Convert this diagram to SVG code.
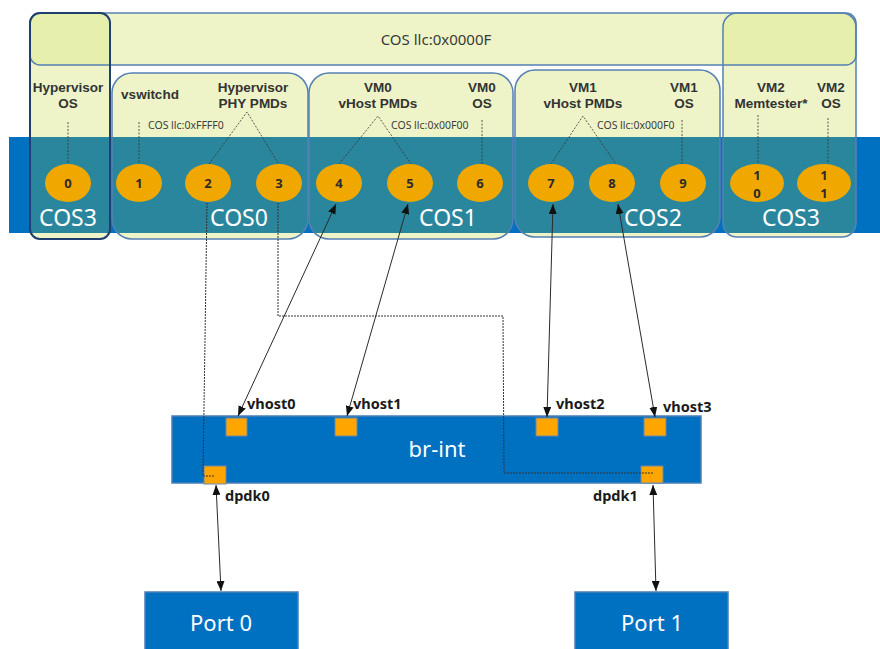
<svg xmlns="http://www.w3.org/2000/svg" width="880" height="649" viewBox="0 0 880 649">
  <style>
    .box { fill: #dde98f; fill-opacity: 0.5; }
    .edge { fill: none; stroke: #5580b4; stroke-width: 1.5; }
    .edge-dark { fill: none; stroke: #1f3f6e; stroke-width: 2; }
    .band { fill: #0070c0; }
    .band-in { fill: #2a869c; }
    .core { fill: #f0a800; }
    .num { font-family: "Noto Sans", "Liberation Sans", sans-serif; font-size: 13px; font-weight: bold; fill: #2b2b2b; text-anchor: middle; }
    .lbl { font-family: "Liberation Sans", "Noto Sans", sans-serif; font-size: 13.5px; font-weight: bold; fill: #333; text-anchor: middle; }
    .small { font-family: "Noto Sans", "Liberation Sans", sans-serif; font-size: 10.5px; fill: #3d3d3d; }
    .title { font-family: "Noto Sans", "Liberation Sans", sans-serif; font-size: 15px; fill: #3a3a3a; text-anchor: middle; }
    .cos { font-family: "Noto Sans", "Liberation Sans", sans-serif; font-size: 23px; fill: #ffffff; text-anchor: middle; }
    .big { font-family: "Noto Sans", "Liberation Sans", sans-serif; font-size: 22px; fill: #ffffff; text-anchor: middle; }
    .port-lbl { font-family: "Noto Sans", "Liberation Sans", sans-serif; font-size: 14.5px; font-weight: bold; fill: #1a1a1a; }
    .lead { fill: none; stroke: #333; stroke-width: 0.8; stroke-dasharray: 2 1.5; }
    .dash { fill: none; stroke: #333; stroke-width: 1; stroke-dasharray: 2 1; }
    .arrow { fill: none; stroke: #2a2a2a; stroke-width: 1; marker-start: url(#head); marker-end: url(#head); }
    .sq { fill: #ffa500; stroke: #6a88aa; stroke-width: 1; }
    .blue { fill: #0070c0; stroke: #4a7fb8; stroke-width: 1.5; }
  </style>
  <defs>
    <marker id="head" viewBox="0 0 10 8" refX="10" refY="4" markerWidth="10" markerHeight="8" markerUnits="userSpaceOnUse" orient="auto-start-reverse">
      <path d="M0,0 L10,4 L0,8 z" fill="#111"/>
    </marker>
    <clipPath id="cos-area">
      <rect x="30" y="13" width="80" height="226" rx="10"/>
      <rect x="112" y="73" width="196" height="166" rx="20"/>
      <rect x="309" y="73" width="204" height="166" rx="20"/>
      <rect x="515" y="70" width="205" height="167" rx="20"/>
      <rect x="723" y="13" width="133" height="224" rx="14"/>
    </clipPath>
  </defs>

  <!-- core band behind the class-of-service containers -->
  <rect class="band" x="9" y="137" width="871" height="96"/>

  <!-- container fills -->
  <g id="cos-top">
    <rect class="box" x="30" y="13" width="826" height="52" rx="10"/>
  </g>
  <g id="cos3-left">
    <rect class="box" x="30" y="13" width="80" height="226" rx="10"/>
  </g>
  <g id="cos0">
    <rect class="box" x="112" y="73" width="196" height="166" rx="20"/>
  </g>
  <g id="cos1">
    <rect class="box" x="309" y="73" width="204" height="166" rx="20"/>
  </g>
  <g id="cos2">
    <rect class="box" x="515" y="70" width="205" height="167" rx="20"/>
  </g>
  <g id="cos3-right">
    <rect class="box" x="723" y="13" width="133" height="224" rx="14"/>
  </g>

  <!-- band seen through the containers -->
  <rect class="band-in" x="9" y="137" width="871" height="96" clip-path="url(#cos-area)"/>

  <!-- container outlines -->
  <rect class="edge" x="30" y="13" width="826" height="52" rx="10"/>
  <rect class="edge" x="112" y="73" width="196" height="166" rx="20"/>
  <rect class="edge" x="309" y="73" width="204" height="166" rx="20"/>
  <rect class="edge" x="515" y="70" width="205" height="167" rx="20"/>
  <rect class="edge" x="723" y="13" width="133" height="224" rx="14"/>
  <rect class="edge-dark" x="30" y="13" width="80" height="226" rx="10"/>

  <!-- container texts -->
  <text class="title" x="436" y="44.5">COS llc:0x0000F</text>
  <text class="lbl" x="68" y="91.5">Hypervisor</text>
  <text class="lbl" x="68" y="107.5">OS</text>
  <text class="lbl" x="150" y="99">vswitchd</text>
  <text class="lbl" x="253" y="91.5">Hypervisor</text>
  <text class="lbl" x="253" y="107.5">PHY PMDs</text>
  <text class="small" x="148" y="128.5">COS llc:0xFFFF0</text>
  <text class="lbl" x="378" y="92">VM0</text>
  <text class="lbl" x="378" y="108">vHost PMDs</text>
  <text class="lbl" x="482" y="92">VM0</text>
  <text class="lbl" x="482" y="108">OS</text>
  <text class="small" x="391" y="128.5">COS llc:0x00F00</text>
  <text class="lbl" x="583" y="92">VM1</text>
  <text class="lbl" x="583" y="108">vHost PMDs</text>
  <text class="lbl" x="684" y="92">VM1</text>
  <text class="lbl" x="684" y="108">OS</text>
  <text class="small" x="597" y="128.5">COS llc:0x000F0</text>
  <text class="lbl" x="771" y="92">VM2</text>
  <text class="lbl" x="771" y="108">Memtester*</text>
  <text class="lbl" x="831" y="92">VM2</text>
  <text class="lbl" x="831" y="108">OS</text>

  <text class="cos" x="68" y="226">COS3</text>
  <text class="cos" x="239" y="226">COS0</text>
  <text class="cos" x="448" y="226">COS1</text>
  <text class="cos" x="653" y="226">COS2</text>
  <text class="cos" x="791" y="226">COS3</text>

  <!-- leaders from owners to cores -->
  <g id="leaders">
    <path class="lead" d="M68,122 V164"/>
    <path class="lead" d="M139,122 V164"/>
    <path class="lead" d="M209,164 L247,112 L278,163"/>
    <path class="lead" d="M339,164 L378,116 L411,164"/>
    <path class="lead" d="M482,120 V164"/>
    <path class="lead" d="M551,164 L583,116 L616,164"/>
    <path class="lead" d="M682,120 V164"/>
    <path class="lead" d="M758,115 V164"/>
    <path class="lead" d="M828,118 V164"/>
  </g>

  <!-- cores -->
  <g id="core0"><ellipse class="core" cx="68" cy="183" rx="23" ry="19"/><text class="num" x="68" y="187.5">0</text></g>
  <g id="core1"><ellipse class="core" cx="139" cy="183" rx="23" ry="19"/><text class="num" x="139" y="187.5">1</text></g>
  <g id="core2"><ellipse class="core" cx="208" cy="183" rx="23" ry="19"/><text class="num" x="208" y="187.5">2</text></g>
  <g id="core3"><ellipse class="core" cx="279" cy="183" rx="23" ry="19"/><text class="num" x="279" y="187.5">3</text></g>
  <g id="core4"><ellipse class="core" cx="339" cy="183" rx="23" ry="19"/><text class="num" x="339" y="187.5">4</text></g>
  <g id="core5"><ellipse class="core" cx="410" cy="183" rx="23" ry="19"/><text class="num" x="410" y="187.5">5</text></g>
  <g id="core6"><ellipse class="core" cx="480" cy="183" rx="23" ry="19"/><text class="num" x="480" y="187.5">6</text></g>
  <g id="core7"><ellipse class="core" cx="551" cy="183" rx="23" ry="19"/><text class="num" x="551" y="187.5">7</text></g>
  <g id="core8"><ellipse class="core" cx="612" cy="183" rx="23" ry="19"/><text class="num" x="612" y="187.5">8</text></g>
  <g id="core9"><ellipse class="core" cx="683" cy="183" rx="23" ry="19"/><text class="num" x="683" y="187.5">9</text></g>
  <g id="core10"><ellipse class="core" cx="757" cy="183" rx="27" ry="19"/><text class="num" x="757" y="179.5">1</text><text class="num" x="757" y="197.5">0</text></g>
  <g id="core11"><ellipse class="core" cx="824" cy="183" rx="27" ry="19"/><text class="num" x="824" y="179.5">1</text><text class="num" x="824" y="197.5">1</text></g>

  <!-- bridge -->
  <g id="br-int">
    <rect class="blue" x="172" y="416" width="529" height="67"/>
    <text class="big" x="437" y="457">br-int</text>
  </g>
  <g id="vhost0"><rect class="sq" x="226" y="418" width="21" height="18"/><text class="port-lbl" x="247" y="409">vhost0</text></g>
  <g id="vhost1"><rect class="sq" x="335" y="418" width="22" height="18"/><text class="port-lbl" x="353" y="409">vhost1</text></g>
  <g id="vhost2"><rect class="sq" x="536" y="418" width="22" height="18"/><text class="port-lbl" x="556" y="409">vhost2</text></g>
  <g id="vhost3"><rect class="sq" x="644" y="418" width="22" height="18"/><text class="port-lbl" x="663" y="412">vhost3</text></g>
  <g id="dpdk0"><rect class="sq" x="204" y="466" width="22" height="18"/><text class="port-lbl" x="225" y="501">dpdk0</text></g>
  <g id="dpdk1"><rect class="sq" x="641" y="466" width="22" height="17"/><text class="port-lbl" x="593" y="501">dpdk1</text></g>

  <!-- physical ports -->
  <g id="port0">
    <rect class="blue" x="145" y="592" width="153" height="60"/>
    <text class="big" x="221" y="631">Port 0</text>
  </g>
  <g id="port1">
    <rect class="blue" x="575" y="592" width="153" height="60"/>
    <text class="big" x="652" y="631">Port 1</text>
  </g>

  <!-- connectors -->
  <g id="connectors">
    <path class="dash" d="M207,203 L203,476 L215,476"/>
    <path class="dash" d="M278,203 L278,316 L503,316 L504,473 L653,473"/>
    <path class="arrow" d="M336,204 L238,416"/>
    <path class="arrow" d="M408,204 L347,416"/>
    <path class="arrow" d="M553,204 L547,417"/>
    <path class="arrow" d="M618,204 L655,417"/>
    <path class="arrow" d="M216,485 L221,591"/>
    <path class="arrow" d="M653,485 L656,591"/>
  </g>
</svg>
